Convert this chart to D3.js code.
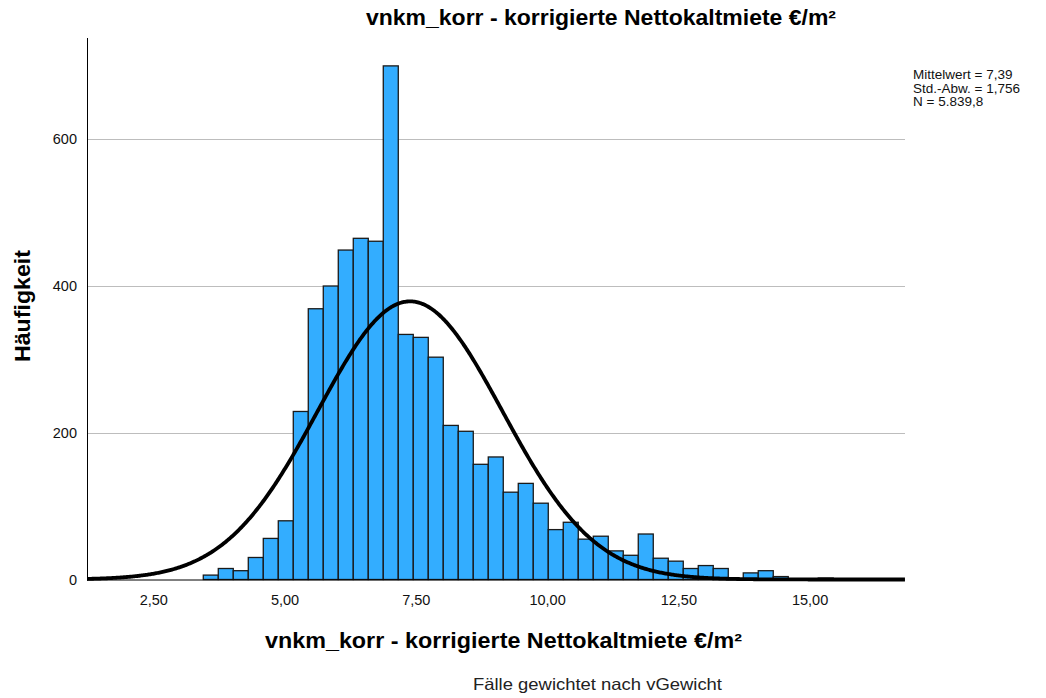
<!DOCTYPE html>
<html>
<head>
<meta charset="utf-8">
<script src="https://cdn.jsdelivr.net/npm/d3@7"></script>
<style>
  body { margin: 0; background: #fff; }
  svg { display: block; font-family: "Liberation Sans", Arial, sans-serif; }
</style>
</head>
<body>
<div id="chart"></div>
<script>
// histogram bins (first visible bin starts at binStart, each binWidth wide)
const binStart = 3.452;
const binWidth = 0.2857;
const counts = [6, 15, 12, 30, 56, 80, 229, 369, 400, 449, 465, 461, 700, 334, 330, 303,
  210, 202, 157, 167, 119, 131, 104, 68, 78, 55, 59, 39, 33, 62, 29, 25, 15, 19, 15,
  1, 9, 12, 4, 1, 1, 2, 1];

const xTicks = [2.5, 5, 7.5, 10, 12.5, 15];
const yTicks = [0, 200, 400, 600];
const statLines = ["Mittelwert = 7,39", "Std.-Abw. = 1,756", "N = 5.839,8"];
const mean = 7.39, sd = 1.756, nTotal = 5839.8;

const title = "vnkm_korr - korrigierte Nettokaltmiete €/m²";
const yTitle = "Häufigkeit";
const note = "Fälle gewichtet nach vGewicht";

const width = 1046, height = 698;
const mLeft = 87, mRight = 905, mTop = 38, mBottom = 579.5;

const locale = d3.formatLocale({ decimal: ",", thousands: ".", grouping: [3], currency: ["", "€"] });
const fmt = locale.format(".2f");

const svg = d3.select("#chart").append("svg")
  .attr("width", width)
  .attr("height", height);

const x = d3.scaleLinear().domain([1.237, 16.818]).range([mLeft, mRight]);
const y = d3.scaleLinear().domain([0, 738]).range([mBottom, mTop]);

// gridlines
svg.append("g")
  .selectAll("line")
  .data(yTicks.filter(d => d > 0))
  .join("line")
  .attr("x1", mLeft).attr("x2", mRight)
  .attr("y1", d => Math.round(y(d)) + 0.5).attr("y2", d => Math.round(y(d)) + 0.5)
  .attr("stroke", "#bdbdbd");

const bins = counts.map((c, i) => ({ x0: binStart + i * binWidth, x1: binStart + (i + 1) * binWidth, c }));

svg.append("g")
  .selectAll("rect")
  .data(bins.filter(b => b.c > 0))
  .join("rect")
  .attr("x", d => x(d.x0))
  .attr("width", d => x(d.x1) - x(d.x0))
  .attr("y", d => y(d.c))
  .attr("height", d => y(0) - y(d.c))
  .attr("fill", "#33adff")
  .attr("stroke", "#1a1a1a")
  .attr("stroke-width", 1.3);

// axes
const xAxis = svg.append("g")
  .attr("transform", `translate(0,${mBottom})`)
  .call(d3.axisBottom(x).tickValues(xTicks).tickFormat(fmt).tickSize(0).tickPadding(15));
xAxis.select(".domain").remove();
xAxis.selectAll("text").attr("font-size", 14.5).attr("fill", "#111").attr("font-family", null);

const yAxis = svg.append("g")
  .attr("transform", `translate(${mLeft},0)`)
  .call(d3.axisLeft(y).tickValues(yTicks).tickSize(0).tickPadding(10));
yAxis.select(".domain").remove();
yAxis.selectAll("text").attr("font-size", 14.5).attr("fill", "#111").attr("font-family", null);

svg.append("line")
  .attr("x1", mLeft + 0.5).attr("x2", mLeft + 0.5)
  .attr("y1", mTop).attr("y2", mBottom + 1)
  .attr("stroke", "#000");
svg.append("line")
  .attr("x1", mLeft).attr("x2", mRight)
  .attr("y1", mBottom + 0.5).attr("y2", mBottom + 0.5)
  .attr("stroke", "#000");

// normal curve
svg.append("clipPath").attr("id", "plot")
  .append("rect").attr("x", mLeft).attr("y", mTop).attr("width", mRight - mLeft).attr("height", mBottom - mTop + 3);

const pdf = v => Math.exp(-0.5 * ((v - mean) / sd) ** 2) / (sd * Math.sqrt(2 * Math.PI));
const xs = d3.range(x.domain()[0], x.domain()[1] + 0.01, 0.02);
svg.append("path")
  .datum(xs)
  .attr("clip-path", "url(#plot)")
  .attr("fill", "none")
  .attr("stroke", "#000")
  .attr("stroke-width", 3.8)
  .attr("d", d3.line().x(d => x(d)).y(d => y(nTotal * binWidth * pdf(d))));

// texts
svg.append("text")
  .attr("x", 366).attr("y", 25)
  .attr("font-size", 21.5).attr("font-weight", "bold")
  .attr("textLength", 470).attr("lengthAdjust", "spacingAndGlyphs")
  .text(title);

svg.append("text")
  .attr("x", 265).attr("y", 648)
  .attr("font-size", 21.5).attr("font-weight", "bold")
  .attr("textLength", 477).attr("lengthAdjust", "spacingAndGlyphs")
  .text(title);

svg.append("text")
  .attr("transform", "translate(30,362) rotate(-90)")
  .attr("font-size", 21.5).attr("font-weight", "bold")
  .attr("textLength", 112).attr("lengthAdjust", "spacingAndGlyphs")
  .text(yTitle);

svg.append("g")
  .selectAll("text")
  .data(statLines)
  .join("text")
  .attr("x", 913)
  .attr("y", (d, i) => 79 + i * 13.5)
  .attr("font-size", 13.5)
  .attr("fill", "#111")
  .text(d => d);

svg.append("text")
  .attr("x", 473).attr("y", 690)
  .attr("font-size", 16.5)
  .attr("fill", "#222")
  .attr("textLength", 249).attr("lengthAdjust", "spacingAndGlyphs")
  .text(note);
</script>
</body>
</html>
